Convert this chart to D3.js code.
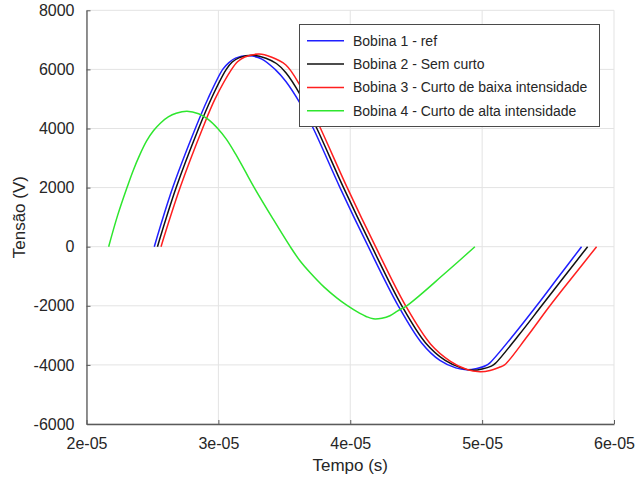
<!DOCTYPE html>
<html>
<head>
<meta charset="utf-8">
<script src="https://cdn.jsdelivr.net/npm/d3@7"></script>
<style>
  body { margin: 0; background: #fff; }
  text { font-family: "Liberation Sans", Arial, Helvetica, sans-serif; fill: #262626; }
</style>
</head>
<body>
<script>
// chart size
var width = 636;
var height = 478;

// series names and colours
var seriesNames = ["Bobina 1 - ref", "Bobina 2 - Sem curto",
                   "Bobina 3 - Curto de baixa intensidade", "Bobina 4 - Curto de alta intensidade"];
var seriesColors = ["#1f1fff", "#111111", "#ff1f1f", "#2ee62e"];

// tick labels
var xTicks = [2e-05, 3e-05, 4e-05, 5e-05, 6e-05];
var xTickLabels = ["2e-05", "3e-05", "4e-05", "5e-05", "6e-05"];
var yTicks = [-6000, -4000, -2000, 0, 2000, 4000, 6000, 8000];
var yTickLabels = ["-6000", "-4000", "-2000", "0", "2000", "4000", "6000", "8000"];

// values (time in units of 1e-5 s, tension in V)
var t1 = [2.514, 2.654, 2.825, 2.92, 3.033, 3.08, 3.13, 3.234, 3.33, 3.43, 3.512, 3.62, 3.72, 3.922, 4.137, 4.364, 4.54, 4.68, 4.80, 4.882, 4.96, 5.03, 5.059, 5.24, 5.413, 5.583, 5.754];
var v1 = [0, 2000, 4000, 5000, 6000, 6230, 6380, 6460, 6350, 6000, 5590, 4850, 4000, 2000, 0, -2000, -3250, -3850, -4100, -4160, -4120, -4020, -3930, -2980, -2000, -1000, 0];

var t2 = [2.538, 2.68, 2.85, 2.945, 3.06, 3.105, 3.16, 3.26, 3.36, 3.44, 3.512, 3.62, 3.747, 3.949, 4.164, 4.391, 4.57, 4.72, 4.84, 4.93, 5.00, 5.07, 5.10, 5.28, 5.451, 5.625, 5.80];
var v2 = [0, 2000, 4000, 5000, 6000, 6250, 6400, 6480, 6380, 6200, 5890, 5150, 4000, 2000, 0, -2000, -3250, -3850, -4100, -4180, -4140, -4040, -3950, -2980, -2000, -1000, 0];

var t3 = [2.565, 2.71, 2.88, 2.975, 3.10, 3.145, 3.20, 3.31, 3.40, 3.512, 3.62, 3.775, 3.977, 4.192, 4.42, 4.61, 4.76, 4.88, 4.983, 5.06, 5.13, 5.17, 5.34, 5.514, 5.69, 5.868];
var v3 = [0, 2000, 4000, 5000, 6000, 6260, 6420, 6520, 6420, 6150, 5450, 4000, 2000, 0, -2000, -3300, -3880, -4150, -4230, -4190, -4080, -4000, -3050, -2000, -1000, 0];

var t4 = [2.168, 2.236, 2.307, 2.355, 2.403, 2.456, 2.509, 2.56, 2.62, 2.68, 2.762, 2.85, 2.92, 2.995, 3.06, 3.13, 3.20, 3.272, 3.406, 3.545, 3.62, 3.70, 3.80, 3.90, 3.973, 4.07, 4.12, 4.174, 4.24, 4.301, 4.36, 4.428, 4.56, 4.69, 4.82, 4.945];
var v4 = [0, 1060, 2000, 2590, 3100, 3580, 3930, 4180, 4390, 4515, 4584, 4500, 4316, 4000, 3640, 3140, 2580, 2000, 1000, 0, -485, -900, -1360, -1740, -1980, -2250, -2360, -2440, -2420, -2335, -2170, -2000, -1520, -1010, -500, 0];

var times = [t1, t2, t3, t4];
var tensions = [v1, v2, v3, v4];

// plot area
var plotLeft = 86.5, plotRight = 614, plotTop = 10.3, plotBottom = 424;

var svg = d3.select("body").append("svg")
  .attr("width", width)
  .attr("height", height);

var xScale = d3.scaleLinear().domain([2e-05, 6e-05]).range([plotLeft, plotRight]);
var yScale = d3.scaleLinear().domain([-6000, 8000]).range([plotBottom, plotTop]);

// grid lines
svg.append("g").selectAll("line")
  .data(xTicks).enter().append("line")
  .attr("x1", function(d) { return xScale(d); })
  .attr("x2", function(d) { return xScale(d); })
  .attr("y1", plotTop).attr("y2", plotBottom)
  .attr("stroke", "#e3e3e3").attr("stroke-width", 1);
svg.append("g").selectAll("line")
  .data(yTicks).enter().append("line")
  .attr("y1", function(d) { return yScale(d); })
  .attr("y2", function(d) { return yScale(d); })
  .attr("x1", plotLeft).attr("x2", plotRight)
  .attr("stroke", "#e3e3e3").attr("stroke-width", 1);

// axes
var xAxis = d3.axisBottom(xScale).tickValues(xTicks)
  .tickFormat(function(d, i) { return xTickLabels[i]; })
  .tickSizeInner(-4).tickSizeOuter(0).tickPadding(14);
var yAxis = d3.axisLeft(yScale).tickValues(yTicks)
  .tickFormat(function(d, i) { return yTickLabels[i]; })
  .tickSizeInner(-4).tickSizeOuter(0).tickPadding(12);

var gx = svg.append("g")
  .attr("transform", "translate(" + [0, plotBottom] + ")")
  .call(xAxis);
var gy = svg.append("g")
  .attr("transform", "translate(" + [plotLeft, 0] + ")")
  .call(yAxis);

[gx, gy].forEach(function(g) {
  g.select(".domain").attr("stroke", "#5a5a5a").attr("stroke-width", 1.3);
  g.selectAll(".tick line").attr("stroke", "#5a5a5a");
  g.selectAll(".tick text").style("font-size", "16px")
   .style("font-family", "'Liberation Sans', Arial, sans-serif").attr("fill", "#262626");
});

// lines
var line = d3.line()
  .x(function(d) { return xScale(d[0] * 1e-5); })
  .y(function(d) { return yScale(d[1]); })
  .curve(d3.curveCatmullRom.alpha(0.5));

for (var s = 0; s < times.length; s++) {
  var pts = times[s].map(function(t, i) { return [t, tensions[s][i]]; });
  svg.append("path")
    .datum(pts)
    .attr("d", line)
    .attr("fill", "none")
    .attr("stroke", seriesColors[s])
    .attr("stroke-width", 1.5);
}

// axis labels
svg.append("text")
  .attr("x", (plotLeft + plotRight) / 2)
  .attr("y", 471)
  .attr("text-anchor", "middle")
  .style("font-size", "17px")
  .text("Tempo (s)");

svg.append("text")
  .attr("transform", "translate(" + [25, (plotTop + plotBottom) / 2] + ") rotate(-90)")
  .attr("text-anchor", "middle")
  .style("font-size", "17px")
  .text("Tensão (V)");

// legend
var legend = svg.append("g");
legend.append("rect")
  .attr("x", 299.5).attr("y", 24.5)
  .attr("width", 300).attr("height", 102)
  .attr("fill", "#fff")
  .attr("stroke", "#4a4a4a").attr("stroke-width", 1);

var rowY = [40.7, 64, 87.4, 110.7];
for (var k = 0; k < seriesNames.length; k++) {
  legend.append("line")
    .attr("x1", 307).attr("x2", 344)
    .attr("y1", rowY[k]).attr("y2", rowY[k])
    .attr("stroke", seriesColors[k]).attr("stroke-width", 1.5);
  legend.append("text")
    .attr("x", 353).attr("y", rowY[k])
    .attr("dy", "0.35em")
    .style("font-size", "14px")
    .text(seriesNames[k]);
}
</script>
</body>
</html>
